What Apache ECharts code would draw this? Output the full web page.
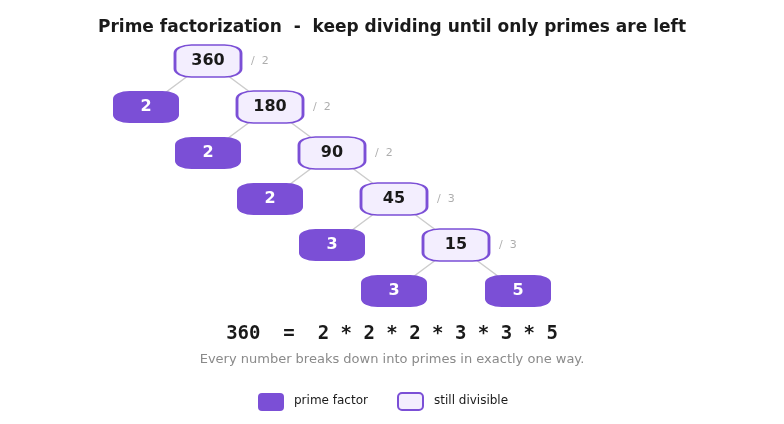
<!DOCTYPE html>
<html><head><meta charset="utf-8">
<script src="https://cdn.jsdelivr.net/npm/echarts@6/dist/echarts.min.js"></script>
<style>html,body{margin:0;padding:0;background:#fff}#c{width:784px;height:424px}</style>
</head><body><div id="c"></div>
<script>
const composites = [360, 180, 90, 45, 15];
const divisors = [2, 2, 2, 3, 3];
const lastPrime = 5;
const equation = '360  =  2 * 2 * 2 * 3 * 3 * 5';
const subtitle = 'Every number breaks down into primes in exactly one way.';

const PURPLE = '#7b4fd6', LIGHT = '#f3eefe';
const nodes = [], links = [], divPts = [];
composites.forEach((v, k) => {
  nodes.push({name: 'c' + k, value: [k + 1, k], label: {formatter: String(v), color: '#1a1a1a'},
    itemStyle: {color: LIGHT, borderColor: PURPLE, borderWidth: 2}});
  nodes.push({name: 'p' + k, value: [k, k + 1], label: {formatter: String(divisors[k]), color: '#fff'},
    itemStyle: {color: PURPLE}});
  divPts.push({value: [k + 1, k], d: divisors[k]});
  links.push({source: 'c' + k, target: 'p' + k});
  if (k < composites.length - 1) links.push({source: 'c' + k, target: 'c' + (k + 1)});
});
const n = composites.length;
nodes.push({name: 'last', value: [n + 1, n], label: {formatter: String(lastPrime), color: '#fff'}, itemStyle: {color: PURPLE}});
links.push({source: 'c' + (n - 1), target: 'last'});

const chart = echarts.init(document.getElementById('c'));
chart.setOption({
  animation: false,
  title: {text: 'Prime factorization  -  keep dividing until only primes are left', left: 'center', top: 14,
    textStyle: {fontFamily: 'DejaVu Sans', fontSize: 17, fontWeight: 'bold', color: '#1a1a1a'}},
  grid: {left: 146, right: 266, top: 61, bottom: 133},
  xAxis: {type: 'value', min: 0, max: 6, show: false},
  yAxis: {type: 'value', min: 0, max: 5, inverse: true, show: false},
  series: [
    {type: 'graph', coordinateSystem: 'cartesian2d', symbol: 'roundRect', symbolSize: [66, 32],
      data: nodes, links: links,
      lineStyle: {color: '#cccccc', width: 1.5, opacity: 1},
      label: {show: true, position: 'inside', fontSize: 16, fontWeight: 'bold', fontFamily: 'DejaVu Sans'}, z: 3},
    {type: 'scatter', symbolSize: 0, data: divPts, z: 4,
      label: {show: true, position: 'right', distance: 43, formatter: p => '/  ' + p.data.d,
        color: '#999', fontSize: 11, fontFamily: 'DejaVu Sans'}}
  ],
  graphic: [
    {type: 'text', left: 'center', top: 325, style: {text: equation, font: 'bold 19px "DejaVu Sans Mono"', fill: '#1a1a1a'}},
    {type: 'text', left: 'center', top: 353, style: {text: subtitle, font: '13px "DejaVu Sans"', fill: '#8a8a8a'}},
    {type: 'rect', shape: {x: 258, y: 393, width: 26, height: 18, r: 4}, style: {fill: PURPLE}},
    {type: 'text', x: 294, y: 395, style: {text: 'prime factor', font: '12px "DejaVu Sans"', fill: '#1a1a1a'}},
    {type: 'rect', shape: {x: 398, y: 393, width: 25, height: 17, r: 4}, style: {fill: LIGHT, stroke: PURPLE, lineWidth: 2}},
    {type: 'text', x: 434, y: 395, style: {text: 'still divisible', font: '12px "DejaVu Sans"', fill: '#1a1a1a'}}
  ]
});
</script></body></html>
